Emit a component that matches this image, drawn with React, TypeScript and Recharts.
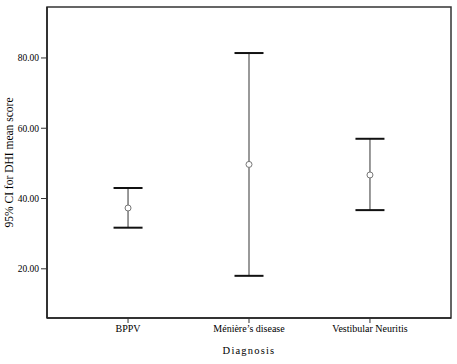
import {
  ComposedChart,
  Scatter,
  ErrorBar,
  XAxis,
  YAxis,
  ReferenceArea,
} from 'recharts'

const categories = ['BPPV', 'Ménière\u2019s disease', 'Vestibular Neuritis']
const means = [37.3, 49.7, 46.7]
const lowerBounds = [31.7, 18.0, 36.7]
const upperBounds = [43.0, 81.4, 57.0]
const yTicks = [20, 40, 60, 80]

const data = categories.map((name, i) => ({
  pos: i + 1,
  name,
  mean: means[i],
  low: lowerBounds[i],
  high: upperBounds[i],
  err: [means[i] - lowerBounds[i], upperBounds[i] - means[i]],
}))

const X_DOMAIN: [number, number] = [0.33, 3.67]
const Y_DOMAIN: [number, number] = [6, 94.5]
const FONT = '"Liberation Serif", "DejaVu Serif", serif'

// horizontal cap at the CI bounds
const Cap = (props: any) => {
  const { cx, cy } = props
  if (cx == null || cy == null) return null
  return <line x1={cx - 14.5} x2={cx + 14.5} y1={cy} y2={cy} stroke="#111" strokeWidth={2} />
}

const MeanDot = (props: any) => {
  const { cx, cy } = props
  if (cx == null || cy == null) return null
  return <circle cx={cx} cy={cy} r={3} fill="#fff" stroke="#777" strokeWidth={1} />
}

export default function App() {
  return (
    <div style={{ position: 'absolute', left: 0, top: 0, background: '#fff' }}>
      <ComposedChart
        width={457}
        height={364}
        data={data}
        margin={{ top: 7, right: 6, left: 0, bottom: 6 }}
      >
        <XAxis
          dataKey="pos"
          type="number"
          domain={X_DOMAIN}
          ticks={[1, 2, 3]}
          tickFormatter={(v: number) => categories[v - 1] ?? ''}
          tick={{ fontSize: 10, fill: '#000', fontFamily: FONT }}
          tickSize={5}
          tickLine={{ stroke: '#333' }}
          axisLine={{ stroke: '#222', strokeWidth: 1.5 }}
          height={40}
          label={{
            value: 'Diagnosis',
            position: 'insideBottom',
            offset: 4,
            style: { fontSize: 10.5, fill: '#000', fontFamily: FONT, letterSpacing: 1.2 },
          }}
        />
        <YAxis
          type="number"
          domain={Y_DOMAIN}
          ticks={yTicks}
          tickFormatter={(v: number) => v.toFixed(2)}
          tick={{ fontSize: 9.5, fill: '#000', fontFamily: FONT }}
          tickSize={6}
          tickLine={{ stroke: '#333' }}
          axisLine={{ stroke: '#222', strokeWidth: 1.5 }}
          width={47}
          label={{
            value: '95% CI for DHI mean score',
            angle: -90,
            position: 'insideLeft',
            offset: 9,
            style: { textAnchor: 'middle', fontSize: 11.5, fill: '#000', fontFamily: FONT },
          }}
        />
        {/* frame around the plot area */}
        <ReferenceArea
          x1={X_DOMAIN[0]}
          x2={X_DOMAIN[1]}
          y1={Y_DOMAIN[0]}
          y2={Y_DOMAIN[1]}
          fill="none"
          fillOpacity={0}
          stroke="#333"
          strokeWidth={1.5}
          ifOverflow="visible"
        />
        <Scatter dataKey="low" shape={<Cap />} isAnimationActive={false} />
        <Scatter dataKey="high" shape={<Cap />} isAnimationActive={false} />
        <Scatter dataKey="mean" shape={<MeanDot />} isAnimationActive={false}>
          <ErrorBar dataKey="err" width={0} stroke="#777" strokeWidth={1.5} direction="y" />
        </Scatter>
      </ComposedChart>
    </div>
  )
}
